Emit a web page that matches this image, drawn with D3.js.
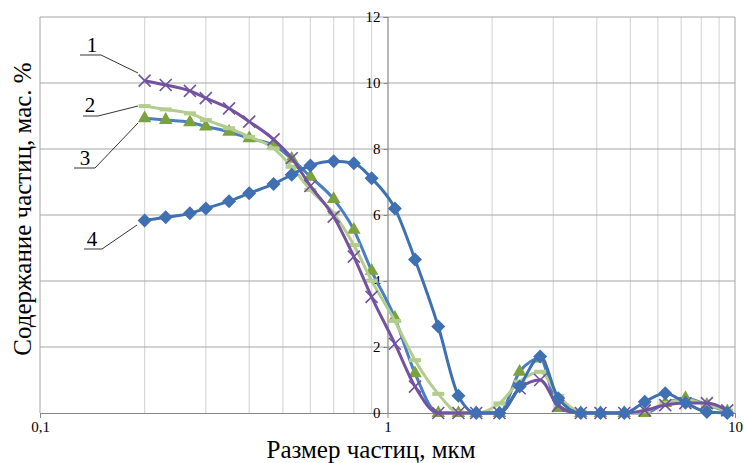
<!DOCTYPE html>
<html>
<head>
<meta charset="utf-8">
<script src="https://cdn.jsdelivr.net/npm/d3@7/dist/d3.min.js"></script>
<style>
  html, body { margin: 0; padding: 0; background: #fff; }
  svg { display: block; }
  text { font-family: "Liberation Serif", "Times New Roman", serif; fill: #000; }
</style>
</head>
<body>
<svg id="chart" width="744" height="463"></svg>
<script>
// Particle size bins, µm
const sizes = [0.2, 0.23, 0.27, 0.3, 0.35, 0.4, 0.47, 0.53, 0.6, 0.7, 0.8, 0.9, 1.05, 1.2, 1.4,
               1.6, 1.8, 2.1, 2.4, 2.75, 3.1, 3.6, 4.1, 4.8, 5.5, 6.3, 7.2, 8.3, 9.5];

// Content of particles, wt. %
const series1 = [10.07, 9.94, 9.76, 9.54, 9.23, 8.83, 8.29, 7.72, 6.88, 5.95, 4.74, 3.52, 2.1, 0.8, 0,
                 0, 0, 0, 0.75, 1.0, 0.22, 0, 0, 0, 0.08, 0.24, 0.3, 0.3, 0.08];
const series2 = [9.3, 9.2, 9.08, 8.88, 8.63, 8.37, 8.02, 7.46, 6.76, 6.05, 5.09, 4.01, 2.79, 1.6, 0.58,
                 0.02, 0, 0.29, 0.95, 1.25, 0.52, 0.03, 0, 0, 0.05, 0.3, 0.4, 0.25, 0.08];
const series3 = [8.93, 8.88, 8.81, 8.68, 8.52, 8.32, 8.12, 7.7, 7.16, 6.48, 5.55, 4.31, 2.88, 1.2, 0,
                 0, 0, 0, 1.25, 1.65, 0.15, 0, 0, 0, 0, 0.3, 0.45, 0.25, 0.05];
const series4 = [5.83, 5.93, 6.05, 6.2, 6.42, 6.66, 6.94, 7.22, 7.5, 7.63, 7.57, 7.11, 6.2, 4.65, 2.62,
                 0.52, 0, 0, 0.8, 1.71, 0.45, 0, 0, 0, 0.34, 0.6, 0.31, 0.03, 0];

const seriesNames = ["1", "2", "3", "4"];
const yTicks = [0, 2, 4, 6, 8, 10, 12];
const xTicks = [0.1, 1, 10];
const xTickLabels = ["0,1", "1", "10"];
const xTitle = "Размер частиц, мкм";
const yTitle = "Содержание частиц, мас. %";

const svg = d3.select("#chart");
const plotLeft = 40, plotRight = 735, plotTop = 17, plotBottom = 413;

const x = d3.scaleLog().domain([0.1, 10]).range([plotLeft, plotRight]);
const y = d3.scaleLinear().domain([0, 12]).range([plotBottom, plotTop]);

// vertical (minor) grid
const minor = [];
[0.1, 1].forEach(d => { for (let k = 2; k <= 9; k++) minor.push(d * k); });
svg.append("g").selectAll("line").data(minor).join("line")
  .attr("x1", d => x(d)).attr("x2", d => x(d))
  .attr("y1", y(12)).attr("y2", y(0))
  .attr("stroke", "#d9d9d9").attr("stroke-width", 1.2);

// horizontal grid
svg.append("g").selectAll("line").data(yTicks.filter(d => d > 0)).join("line")
  .attr("x1", plotLeft).attr("x2", plotRight)
  .attr("y1", d => y(d)).attr("y2", d => y(d))
  .attr("stroke", "#a6a6a6").attr("stroke-width", 1);

// plot frame left / right
svg.append("line").attr("x1", plotLeft).attr("x2", plotLeft).attr("y1", plotTop).attr("y2", plotBottom)
  .attr("stroke", "#a6a6a6");
svg.append("line").attr("x1", plotRight).attr("x2", plotRight).attr("y1", plotTop).attr("y2", plotBottom)
  .attr("stroke", "#a6a6a6");

// x axis along y = 0
const xAxis = d3.axisBottom(x).tickValues(xTicks).tickFormat((d, i) => xTickLabels[i]).tickSize(5).tickPadding(3);
const gx = svg.append("g").attr("transform", `translate(0,${plotBottom})`).call(xAxis);
gx.select(".domain").attr("stroke", "#868686");
gx.selectAll(".tick line").attr("stroke", "#868686");
gx.selectAll("text").style("font-size", "15px").style("font-family", "Liberation Serif");

// y axis crossing at x = 1
const yAxis = d3.axisLeft(y).tickValues(yTicks).tickSize(4).tickPadding(3);
const gy = svg.append("g").attr("transform", `translate(${x(1)},0)`).call(yAxis);
gy.select(".domain").attr("stroke", "#868686").attr("stroke-width", 1.2);
gy.selectAll(".tick line").attr("stroke", "#868686");
gy.selectAll("text").style("font-size", "15px").style("font-family", "Liberation Serif");

// axis titles
svg.append("text").attr("x", 371).attr("y", 458).attr("text-anchor", "middle")
  .style("font-size", "25px").text(xTitle);
svg.append("text").attr("transform", "translate(31,209) rotate(-90)").attr("text-anchor", "middle")
  .style("font-size", "25px").text(yTitle);

// curves
const line = d3.line().x(d => x(d[0])).y(d => y(d[1])).curve(d3.curveMonotoneX);
const pts = vals => sizes.map((s, i) => [s, vals[i]]);

const plot = svg.append("g");

function drawLine(vals, color) {
  plot.append("path").datum(pts(vals)).attr("d", line)
    .attr("fill", "none").attr("stroke", color).attr("stroke-width", 3)
    .attr("stroke-linejoin", "round");
}

// series 3: blue line, green triangles
drawLine(series3, "#4a7fc1");
plot.append("g").selectAll("path").data(pts(series3)).join("path")
  .attr("transform", d => `translate(${x(d[0])},${y(d[1])})`)
  .attr("d", d3.symbol(d3.symbolTriangle, 80)())
  .attr("fill", "#7ba23f");

// series 2: light green line, dash markers
drawLine(series2, "#b3cd8c");
plot.append("g").selectAll("rect").data(pts(series2)).join("rect")
  .attr("x", d => x(d[0]) - 6).attr("y", d => y(d[1]) - 2)
  .attr("width", 12).attr("height", 4)
  .attr("fill", "#b3cd8c");

// series 1: purple line, cross markers
drawLine(series1, "#7352a0");
plot.append("g").selectAll("path").data(pts(series1)).join("path")
  .attr("transform", d => `translate(${x(d[0])},${y(d[1])})`)
  .attr("d", "M-6,-6L6,6M-6,6L6,-6")
  .attr("stroke", "#7352a0").attr("stroke-width", 1.6).attr("fill", "none");

// series 4: blue line, diamond markers
drawLine(series4, "#3e70b2");
plot.append("g").selectAll("path").data(pts(series4)).join("path")
  .attr("transform", d => `translate(${x(d[0])},${y(d[1])})`)
  .attr("d", "M0,-7L7,0L0,7L-7,0Z")
  .attr("fill", "#3e70b2");

// numbered callouts with leader lines
const callouts = [
  { name: seriesNames[0], tx: 92, ty: 52, u1: 80, u2: 101, uy: 55, lx: 138, ly: 73 },
  { name: seriesNames[1], tx: 90, ty: 112, u1: 83, u2: 98, uy: 116, lx: 138, ly: 106 },
  { name: seriesNames[2], tx: 85, ty: 165, u1: 74, u2: 95, uy: 168, lx: 138, ly: 123 },
  { name: seriesNames[3], tx: 92, ty: 246, u1: 84, u2: 102, uy: 249, lx: 137, ly: 225 }
];
const cg = svg.append("g");
callouts.forEach(c => {
  cg.append("text").attr("x", c.tx).attr("y", c.ty).attr("text-anchor", "middle")
    .style("font-size", "21px").text(c.name);
  cg.append("path").attr("d", `M${c.u1},${c.uy}L${c.u2},${c.uy}L${c.lx},${c.ly}`)
    .attr("fill", "none").attr("stroke", "#000").attr("stroke-width", 0.8);
});
</script>
</body>
</html>
